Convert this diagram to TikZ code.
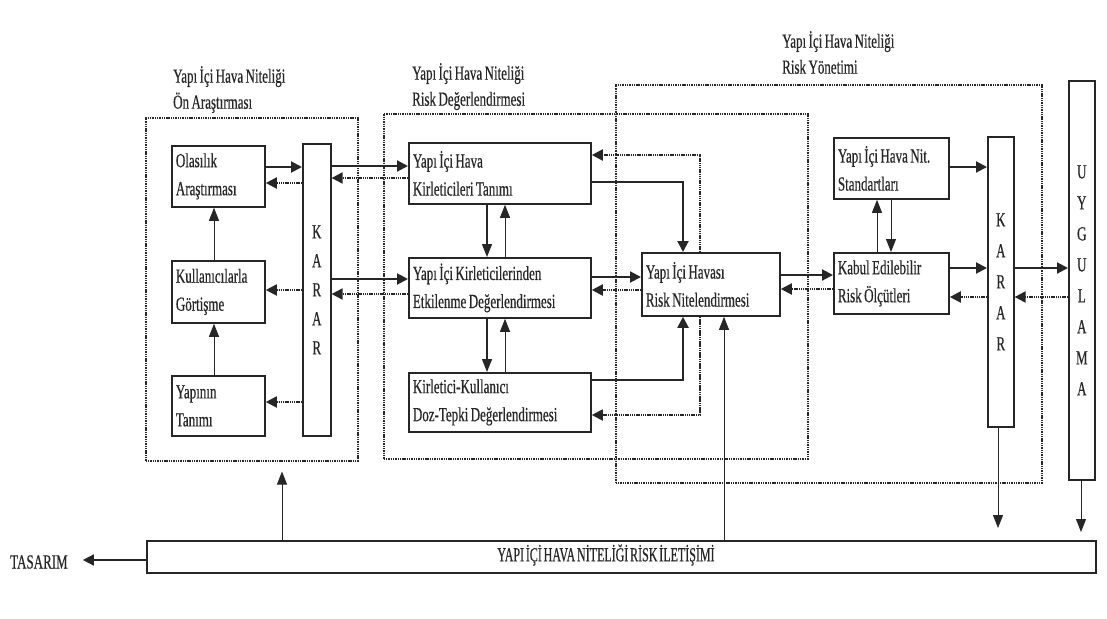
\documentclass[tikz,border=0pt]{standalone}
\usepackage{fontspec}
\setmainfont{Liberation Serif}[FakeStretch=0.65, WordSpace=0.75, FakeBold=0.4]
\newfontfamily\barfont{Liberation Serif}[FakeStretch=0.6, WordSpace=0.6, FakeBold=0.4]
\usetikzlibrary{arrows.meta}
\definecolor{ink}{gray}{0.15}
\begin{document}
\begin{tikzpicture}[x=1pt,y=-1pt,
  every node/.style={font=\fontsize{20}{28}\selectfont, text=ink},
  box/.style={draw=ink, line width=1.8pt, anchor=north west, inner xsep=4pt, inner ysep=0pt, align=flush left},
  tall/.style={draw=ink, line width=1.6pt, anchor=north west, inner sep=0pt, align=center},
  frame/.style={draw=ink, line width=1.5pt, dash pattern=on 1.4pt off 0.9pt, anchor=north west, inner sep=0pt},
  lbl/.style={anchor=north west, inner sep=0pt, align=flush left, font=\fontsize{20}{26}\selectfont},
  sarr/.style={draw=ink, line width=2pt, -{Triangle[length=11pt,width=11pt]}},
  darr/.style={draw=ink, line width=2pt, dash pattern=on 1.5pt off 0.7pt, -{Triangle[length=11pt,width=11pt]}},
  marr/.style={draw=ink, line width=1.4pt, -{Triangle[length=13pt,width=10pt]}},
  tarr/.style={draw=ink, line width=0.9pt, -{Triangle[length=13pt,width=10pt]}}
]
\useasboundingbox (0,0) rectangle (1107,618);
\fill[white] (0,0) rectangle (1107,618);

% frames
\node[frame, minimum width=212pt, minimum height=343pt] (f1) at (145,117) {};
\node[frame, minimum width=424pt, minimum height=345pt] (f2) at (383,113) {};
\node[frame, minimum width=426pt, minimum height=398pt] (f3) at (615,84) {};

% frame labels
\node[lbl] (l1) at (173,66) {Yapı İçi Hava Niteliği\\Ön Araştırması};
\node[lbl] (l2) at (412,63) {Yapı İçi Hava Niteliği\\Risk Değerlendirmesi};
\node[lbl] (l3) at (782,31) {Yapı İçi Hava Niteliği\\Risk Yönetimi};

% boxes
\node[box, text width=85pt, minimum height=61pt] (ola) at (171,145) {Olasılık\\Araştırması};
\node[box, text width=85pt, minimum height=62pt] (kul) at (171,260) {Kullanıcılarla\\Görtişme};
\node[box, text width=85pt, minimum height=60pt] (yap) at (171,375) {Yapının\\Tanımı};
\node[tall, minimum width=28pt, minimum height=292pt, font=\fontsize{20}{29}\selectfont] (k1) at (302,143) {K\\A\\R\\A\\R};

\node[box, text width=174pt, minimum height=61pt] (kirl) at (408,142) {Yapı İçi Hava\\Kirleticileri Tanımı};
\node[box, text width=174pt, minimum height=60pt] (etk) at (408,257) {Yapı İçi Kirleticilerinden\\Etkilenme Değerlendirmesi};
\node[box, text width=174pt, minimum height=59pt] (doz) at (408,372) {Kirletici-Kullanıcı\\Doz-Tepki Değerlendirmesi};

\node[box, text width=130pt, minimum height=63pt] (risk) at (641,252) {Yapı İçi Havası\\Risk Nitelendirmesi};

\node[box, text width=107pt, minimum height=61pt] (std) at (833,137) {Yapı İçi Hava Nit.\\Standartları};
\node[box, text width=107pt, minimum height=61pt] (kab) at (833,252) {Kabul Edilebilir\\Risk Ölçütleri};
\node[tall, minimum width=26pt, minimum height=290pt, font=\fontsize{20}{31}\selectfont] (k2) at (987,136) {K\\A\\R\\A\\R};
\node[tall, minimum width=26pt, minimum height=399pt, font=\fontsize{20}{31}\selectfont] (uyg) at (1068,80) {U\\Y\\G\\U\\L\\A\\M\\A};

% bottom bar
\node[draw=ink, line width=1.8pt, anchor=north west, minimum width=949pt, minimum height=32pt, inner sep=0pt] (bar) at (146,540) {};
\node[font=\barfont\fontsize{20}{22}\selectfont, inner sep=0pt] (bt) at (606,555) {YAPI İÇİ HAVA NİTELİĞİ RİSK İLETİŞİMİ};
\node[anchor=west, inner sep=0pt] (tas) at (10,562) {TASARIM};

% Ön araştırma connectors
\draw[sarr] (ola.east |- 0,167) -- (k1.west |- 0,167);
\draw[darr] (k1.west |- 0,183) -- (ola.east |- 0,183);
\draw[darr] (k1.west |- 0,290) -- (kul.east |- 0,290);
\draw[darr] (k1.west |- 0,402) -- (yap.east |- 0,402);
\draw[tarr] (kul.north -| 214,0) -- (ola.south -| 214,0);
\draw[tarr] (yap.north -| 214,0) -- (kul.south -| 214,0);

% KARAR <-> değerlendirme
\draw[sarr] (k1.east |- 0,166) -- (kirl.west |- 0,166);
\draw[darr] (kirl.west |- 0,178) -- (k1.east |- 0,178);
\draw[sarr] (k1.east |- 0,279) -- (etk.west |- 0,279);
\draw[darr] (etk.west |- 0,294) -- (k1.east |- 0,294);

% vertical between değerlendirme boxes
\draw[marr] (kirl.south -| 487,0) -- (etk.north -| 487,0);
\draw[tarr] (etk.north -| 505,0) -- (kirl.south -| 505,0);
\draw[marr] (etk.south -| 487,0) -- (doz.north -| 487,0);
\draw[tarr] (doz.north -| 505,0) -- (etk.south -| 505,0);

% to / from risk nitelendirmesi
\draw[sarr] (kirl.east |- 0,182) -| (risk.north -| 683,0);
\draw[darr] (risk.north -| 700,0) |- (kirl.east |- 0,155);
\draw[sarr] (etk.east |- 0,277) -- (risk.west |- 0,277);
\draw[darr] (risk.west |- 0,290) -- (etk.east |- 0,290);
\draw[sarr] (doz.east |- 0,380) -| (risk.south -| 683,0);
\draw[darr] (risk.south -| 700,0) |- (doz.east |- 0,415);

% risk <-> kabul
\draw[sarr] (risk.east |- 0,275) -- (kab.west |- 0,275);
\draw[darr] (kab.west |- 0,289) -- (risk.east |- 0,289);

% standartlar <-> kabul
\draw[tarr] (kab.north -| 877,0) -- (std.south -| 877,0);
\draw[tarr] (std.south -| 891,0) -- (kab.north -| 891,0);

% to KARAR 2
\draw[sarr] (std.east |- 0,167) -- (k2.west |- 0,167);
\draw[sarr] (kab.east |- 0,268) -- (k2.west |- 0,268);
\draw[darr] (k2.west |- 0,297) -- (kab.east |- 0,297);
\draw[sarr] (k2.east |- 0,268) -- (uyg.west |- 0,268);
\draw[darr] (uyg.west |- 0,297) -- (k2.east |- 0,297);

% bottom links
\draw[tarr, shorten >=10pt] (bar.north -| 282,0) -- (f1.south -| 282,0);
\draw[tarr] (bar.north -| 724,0) -- (risk.south -| 724,0);
\draw[tarr, shorten >=12pt] (k2.south -| 998,0) -- (bar.north -| 998,0);
\draw[tarr, shorten >=8pt] (uyg.south -| 1081,0) -- (bar.north -| 1081,0);
\draw[sarr, line width=1.6pt, shorten >=15pt] (bar.west |- 0,560) -- (tas.east |- 0,560);
\end{tikzpicture}
\end{document}
